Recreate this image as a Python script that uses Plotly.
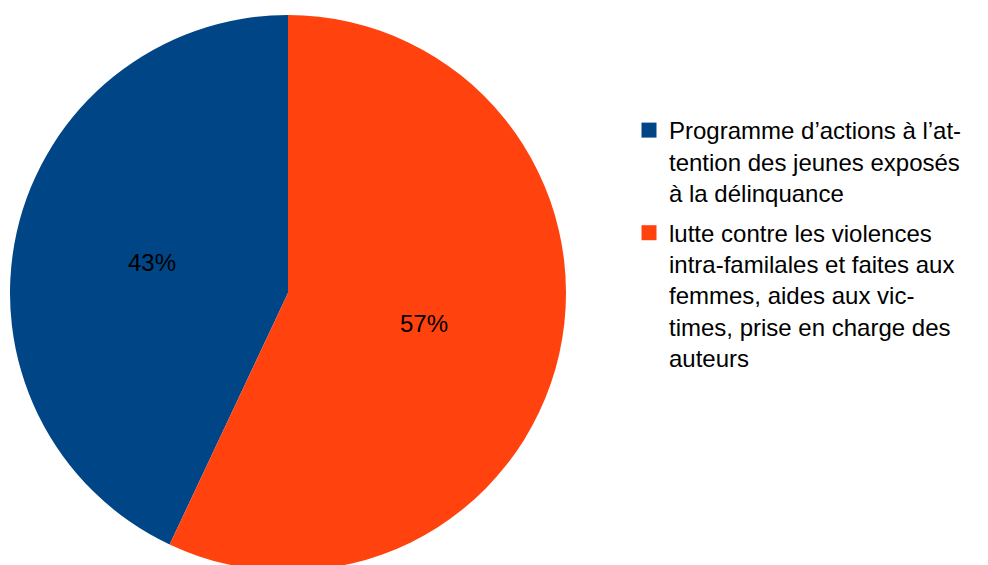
import math
import plotly.graph_objects as go

# Data
labels = [
    "Programme d’actions à l’at-<br>tention des jeunes exposés<br>à la délinquance",
    "lutte contre les violences<br>intra-familales et faites aux<br>femmes, aides aux vic-<br>times, prise en charge des<br>auteurs",
]
values = [43, 57]
colors = ["#004586", "#ff420e"]

# Canvas and pie geometry (pixels)
W, H = 988, 585
CX, CY, R = 288, 293, 278
FONT = "Liberation Sans, Arial, sans-serif"

total = sum(values)
# First slice ends at 12 o'clock, the rest continue clockwise from there
rotation = -values[0] / total * 360

fig = go.Figure()

fig.add_trace(
    go.Pie(
        labels=labels,
        values=values,
        sort=False,
        direction="clockwise",
        rotation=rotation,
        marker=dict(colors=colors, line=dict(width=0)),
        textinfo="none",
        hoverinfo="label+percent",
        showlegend=False,
        domain=dict(
            x=[(CX - R) / W, (CX + R) / W],
            y=[(H - CY - R) / H, (H - CY + R) / H],
        ),
    )
)

# Legend entries: square swatches, one per category
for i, (lab, col) in enumerate(zip(labels, colors)):
    fig.add_trace(
        go.Scatter(
            x=[None],
            y=[None],
            mode="markers",
            name=lab,
            legendgroup=f"g{i}",
            marker=dict(symbol="square", size=15, color=col, line=dict(width=0)),
            showlegend=True,
            hoverinfo="skip",
        )
    )

# Percent labels at half radius along each slice's mid angle
annotations = []
start_deg = rotation
for v in values:
    frac = v / total
    mid = math.radians(start_deg + frac * 180)  # clockwise from 12 o'clock
    px = CX + 0.5 * R * math.sin(mid)
    py = CY - 0.5 * R * math.cos(mid)
    annotations.append(
        dict(
            x=px / W,
            y=1 - py / H,
            xref="paper",
            yref="paper",
            text=f"{round(frac * 100)}%",
            showarrow=False,
            font=dict(family=FONT, size=24, color="#000000"),
            xanchor="center",
            yanchor="middle",
        )
    )
    start_deg += frac * 360

fig.update_layout(
    width=W,
    height=H,
    margin=dict(l=0, r=0, t=0, b=0),
    paper_bgcolor="#ffffff",
    plot_bgcolor="#ffffff",
    xaxis=dict(visible=False),
    yaxis=dict(visible=False),
    showlegend=True,
    legend=dict(
        x=629 / W,
        y=1 - 108 / H,
        xanchor="left",
        yanchor="top",
        valign="top",
        tracegroupgap=6,
        font=dict(family=FONT, size=24, color="#000000"),
        bgcolor="rgba(0,0,0,0)",
        borderwidth=0,
    ),
    annotations=annotations,
)

fig.write_html("out.html")
